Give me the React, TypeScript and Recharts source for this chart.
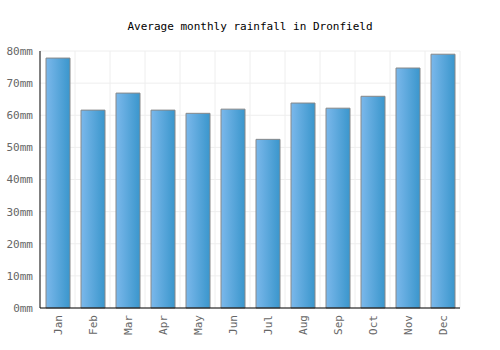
import React from 'react';
import { BarChart, Bar, XAxis, YAxis, CartesianGrid } from 'recharts';

const months = ['Jan', 'Feb', 'Mar', 'Apr', 'May', 'Jun', 'Jul', 'Aug', 'Sep', 'Oct', 'Nov', 'Dec'];
const rainfall = [77.8, 61.6, 66.9, 61.6, 60.6, 61.9, 52.5, 63.8, 62.2, 65.9, 74.7, 79.0];
const yTicks = [0, 10, 20, 30, 40, 50, 60, 70, 80];

const FONT = '"DejaVu Sans Mono", monospace';

const data = months.map((m, i) => ({ month: m, rain: rainfall[i] }));

const MonthTick = ({ x, y, payload }: any) => (
  <text
    x={x + 1}
    y={y}
    transform={`rotate(-90, ${x + 1}, ${y})`}
    textAnchor="end"
    dominantBaseline="central"
    fill="#666"
    fontSize={11}
    fontFamily={FONT}
  >
    {payload.value}
  </text>
);

const App: React.FC = () => (
  <div style={{ position: 'absolute', left: 0, top: 0, width: 500, height: 350, background: '#fff' }}>
    <div
      style={{
        position: 'absolute',
        top: 20,
        width: 500,
        textAlign: 'center',
        fontFamily: FONT,
        fontSize: 11,
        color: '#000',
      }}
    >
      Average monthly rainfall in Dronfield
    </div>
    <BarChart width={500} height={350} data={data} margin={{ top: 51, right: 40, bottom: 0, left: 1 }} barSize={24}>
      <defs>
        <linearGradient id="barFill" x1="0" y1="0" x2="1" y2="0">
          <stop offset="0%" stopColor="#7bb8eb" />
          <stop offset="100%" stopColor="#3a96cc" />
        </linearGradient>
      </defs>
      <CartesianGrid
        stroke="#eeeeee"
        verticalCoordinatesGenerator={({ offset }: any) =>
          months.map((_, i) => offset.left + (offset.width / months.length) * (i + 1))
        }
      />
      <XAxis
        dataKey="month"
        height={42}
        axisLine={{ stroke: '#000' }}
        tickLine={false}
        tickSize={5}
        interval={0}
        tick={<MonthTick />}
      />
      <YAxis
        width={39}
        domain={[0, 80]}
        ticks={yTicks}
        tickFormatter={(v: number) => `${v}mm`}
        axisLine={{ stroke: '#000' }}
        tickLine={false}
        tickSize={5}
        tick={{ fill: '#666', fontSize: 11, fontFamily: FONT }}
      />
      <Bar dataKey="rain" fill="url(#barFill)" stroke="#888" strokeWidth={1} isAnimationActive={false} />
    </BarChart>
  </div>
);

export default App;
